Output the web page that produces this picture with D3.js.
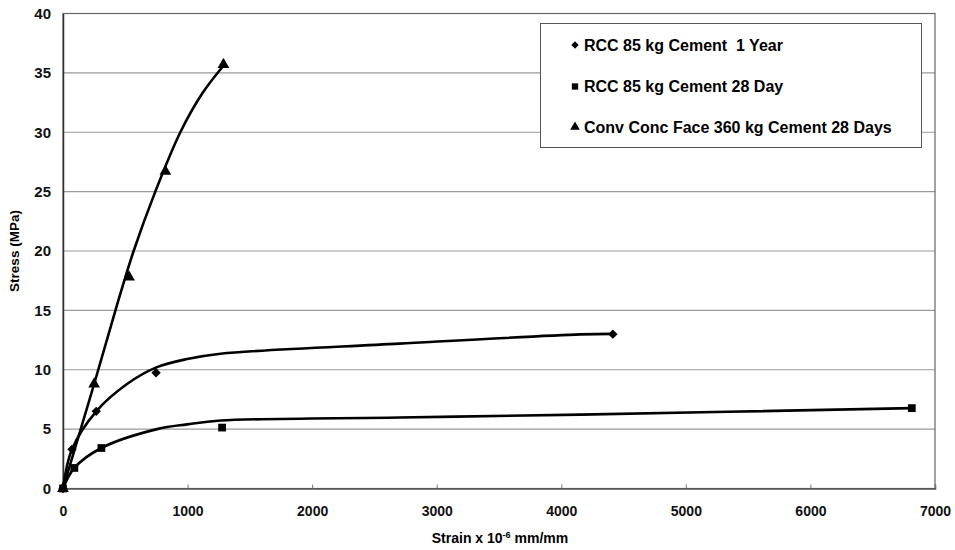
<!DOCTYPE html>
<html>
<head>
<meta charset="utf-8">
<script src="https://cdn.jsdelivr.net/npm/d3@7"></script>
<style>
  body { margin: 0; background: #fff; }
  svg { display: block; font-family: "Liberation Sans", Arial, sans-serif; font-weight: bold; }
</style>
</head>
<body>
<svg width="955" height="550"></svg>
<script>
// measured points (markers)
const oneYearStrain = [0, 72, 267, 747, 4414];
const oneYearStress = [0, 3.3, 6.5, 9.75, 13.0];
const day28Strain = [0, 91, 308, 1277, 6814];
const day28Stress = [0, 1.73, 3.41, 5.13, 6.77];
const convStrain = [0, 250, 530, 822, 1288];
const convStress = [0, 8.8, 17.8, 26.7, 35.7];

// fitted trend curves
const oneYearFitStrain = [0, 72, 267, 514, 750, 996, 1265, 2700, 4155, 4414];
const oneYearFitStress = [0, 3.3, 6.5, 8.8, 10.2, 10.9, 11.35, 12.2, 12.98, 13.02];
const day28FitStrain = [0, 91, 308, 755, 996, 1265, 2700, 4155, 6814];
const day28FitStress = [0, 1.73, 3.41, 5.0, 5.4, 5.72, 5.98, 6.22, 6.77];
const convFitStrain = [0, 250, 421, 567, 741, 942, 1120, 1288];
const convFitStress = [0, 8.8, 15, 20, 25, 30, 33.3, 35.6];

const xTicks = [0, 1000, 2000, 3000, 4000, 5000, 6000, 7000];
const yTicks = [0, 5, 10, 15, 20, 25, 30, 35, 40];
const legendLabels = ["RCC 85 kg Cement  1 Year", "RCC 85 kg Cement 28 Day", "Conv Conc Face 360 kg Cement 28 Days"];

const zip = (xs, ys) => xs.map((x, i) => [x, ys[i]]);

const svg = d3.select("svg");
const plotLeft = 63, plotRight = 935, plotTop = 13.5, plotBottom = 488.5;

const x = d3.scaleLinear().domain([0, 7000]).range([plotLeft, plotRight]);
const y = d3.scaleLinear().domain([0, 40]).range([plotBottom, plotTop]);

// gridlines
svg.append("g").selectAll("line").data(yTicks.slice(1)).join("line")
    .attr("x1", plotLeft).attr("x2", plotRight)
    .attr("y1", d => y(d)).attr("y2", d => y(d))
    .attr("stroke", "#9a9a9a").attr("stroke-width", 1.2);

// plot frame
svg.append("rect")
    .attr("x", plotLeft).attr("y", plotTop)
    .attr("width", plotRight - plotLeft).attr("height", plotBottom - plotTop)
    .attr("fill", "none").attr("stroke", "#666").attr("stroke-width", 1.2);

// axes
const yAxis = d3.axisLeft(y).tickValues(yTicks).tickSize(0).tickPadding(12).tickFormat(d3.format("d"));
const yg = svg.append("g").attr("transform", `translate(${plotLeft},0)`).call(yAxis);
yg.select(".domain").attr("stroke", "#333").attr("stroke-width", 1.5);
yg.selectAll("text").style("font-size", "15px").style("font-weight", "bold")
    .style("font-family", "'Liberation Sans', Arial, sans-serif").attr("fill", "#111");

const xAxis = d3.axisBottom(x).tickValues(xTicks).tickSize(-4).tickPadding(18).tickFormat(d3.format("d"));
const xg = svg.append("g").attr("transform", `translate(0,${plotBottom})`).call(xAxis);
xg.select(".domain").attr("stroke", "#555").attr("stroke-width", 1.5);
xg.selectAll(".tick line").attr("stroke", "#777");
xg.selectAll("text").style("font-size", "14px").style("font-weight", "bold")
    .style("font-family", "'Liberation Sans', Arial, sans-serif").attr("fill", "#111");

// axis titles
svg.append("text")
    .attr("text-anchor", "middle")
    .attr("transform", `translate(19,${(plotTop + plotBottom) / 2})rotate(-90)`)
    .style("font-size", "13.5px")
    .text("Stress (MPa)");

const xt = svg.append("text")
    .attr("text-anchor", "middle")
    .attr("x", 500).attr("y", 543)
    .style("font-size", "14px");
xt.append("tspan").text("Strain x 10");
xt.append("tspan").attr("baseline-shift", "super").style("font-size", "9px").text("-6");
xt.append("tspan").text(" mm/mm");

// curves
const line = d3.line().x(d => x(d[0])).y(d => y(d[1])).curve(d3.curveCatmullRom.alpha(0.5));
[zip(oneYearFitStrain, oneYearFitStress), zip(day28FitStrain, day28FitStress), zip(convFitStrain, convFitStress)]
    .forEach(pts => {
        svg.append("path").attr("d", line(pts))
            .attr("fill", "none").attr("stroke", "#000").attr("stroke-width", 2.6);
    });

// markers
const sym = [d3.symbolDiamond2, d3.symbolSquare, d3.symbolTriangle];
const symSize = [56, 60, 60];
const series = [zip(oneYearStrain, oneYearStress), zip(day28Strain, day28Stress), zip(convStrain, convStress)];
series.forEach((pts, i) => {
    svg.append("g").selectAll("path").data(pts).join("path")
        .attr("transform", d => `translate(${x(d[0])},${y(d[1])})`)
        .attr("d", d3.symbol(sym[i], symSize[i]))
        .attr("fill", "#000");
});

// legend
const lg = svg.append("g");
lg.append("rect")
    .attr("x", 540.5).attr("y", 23.5).attr("width", 381).attr("height", 124)
    .attr("fill", "#fff").attr("stroke", "#555").attr("stroke-width", 1);
const rowY = [45, 86.5, 127];
legendLabels.forEach((lab, i) => {
    lg.append("path")
        .attr("transform", `translate(575,${rowY[i]})`)
        .attr("d", d3.symbol(sym[i], [34, 40, 40][i]))
        .attr("fill", "#000");
    lg.append("text")
        .attr("x", 584).attr("y", rowY[i]).attr("dy", "0.36em")
        .style("font-size", "16px")
        .style("white-space", "pre")
        .attr("xml:space", "preserve")
        .text(lab);
});
</script>
</body>
</html>
